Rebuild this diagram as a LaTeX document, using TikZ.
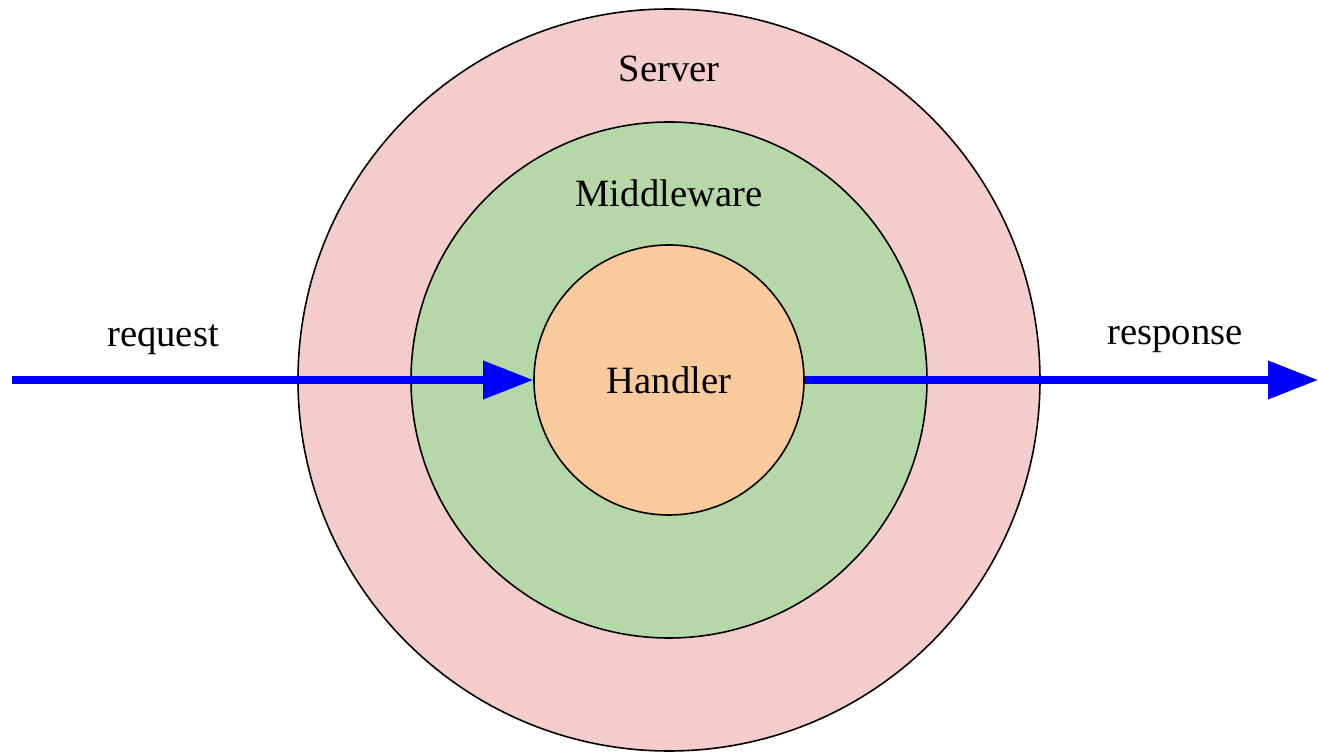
\documentclass[tikz,border=0pt]{standalone}
\usepackage{fontspec}
\setmainfont{Liberation Serif}
\usepackage{tikz}
\usetikzlibrary{arrows.meta, positioning, calc}
\definecolor{serverpink}{RGB}{244, 204, 204}
\definecolor{middlegreen}{RGB}{182, 215, 168}
\definecolor{handlerorange}{RGB}{249, 203, 156}
\definecolor{flowblue}{RGB}{0, 0, 255}

\begin{document}
\begin{tikzpicture}[
    font=\fontsize{11}{13}\selectfont,
    layer/.style={circle, draw=black, line width=0.45pt, inner sep=0pt},
    caption/.style={inner sep=0pt, text=black},
    flow/.style={draw=flowblue, line width=2pt, -{Triangle[length=0.5cm, width=0.37cm]}}
]
\useasboundingbox (0,0) rectangle (13.18,-7.54);

\node [layer, fill=serverpink, minimum size=7.42cm] (server) at (6.69,-3.80) {};
\node [layer, fill=middlegreen, minimum size=5.16cm] (middleware) at (6.69,-3.80) {};
\node [layer, fill=handlerorange, minimum size=2.70cm] (handler) at (6.69,-3.80) {};

\node [caption] (server_lbl) at ($(server.north)+(0,-0.61)$) {Server};
\node [caption] (middleware_lbl) at ($(middleware.north)+(0,-0.72)$) {Middleware};
\node [caption] (handler_lbl) at (handler.center) {Handler};

\coordinate (req_in) at (0.12,-3.80);
\coordinate (resp_out) at (13.18,-3.80);
\node [caption] (req_lbl) at (1.63,-3.40) {request};
\node [caption] (resp_lbl) at (11.75,-3.40) {response};

\path [flow] (req_in) -- (handler.west);
\path [flow] (handler.east) -- (resp_out);

\end{tikzpicture}
\end{document}
